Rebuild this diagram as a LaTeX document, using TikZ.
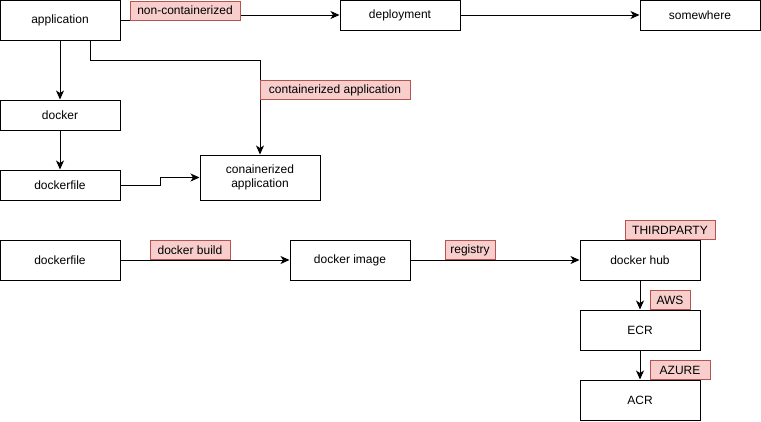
\documentclass[tikz,border=0pt]{standalone}
\usepackage{fontspec}
\setmainfont{Liberation Sans}
\usepackage{xcolor}
\usepackage{tikz}
\usetikzlibrary{positioning, arrows.meta}
\definecolor{tagfill}{HTML}{F8CECC}
\definecolor{tagline}{HTML}{B85450}
\tikzset{
	>={Stealth[length=9pt, width=8pt, inset=2.5pt]}, % arrow heads
	every node/.style={font=\fontsize{12}{14}\selectfont},
	box/.style={draw, line width=1pt, minimum width=120pt, minimum height=30pt, inner sep=0pt}, % plain boxes
	tallbox/.style={box, minimum height=40pt},
	tag/.style={draw=tagline, fill=tagfill, line width=1pt, minimum height=19pt, inner sep=0pt}, % red labels
	link/.style={->, line width=1pt},
}
\begin{document}
\begin{tikzpicture}[x=1pt, y=-1pt, node distance=2cm, on grid]
				\useasboundingbox (0,0) rectangle (761,421);
				% Top part
				\node[tallbox] (application) at (60,20) {application};
				\node[box] (deployment) at (400,15) {deployment};
				\node[box, right=300pt of deployment] (somewhere) {somewhere};
				\node[box, below=95pt of application] (docker) {docker};
				\node[box, below=70pt of docker] (dockerfile) {dockerfile};
				\node[box, minimum height=45pt, align=center] (conainerized) at (260,177.5) {conainerized\\application};
				
				% Bottom part
				\node[tallbox] (dockerfileB) at (60,260) {dockerfile};
				\node[tallbox, right=290pt of dockerfileB] (image) {docker image};
				\node[tallbox, right=290pt of image] (hub) {docker hub};
				\node[tallbox, below=70pt of hub] (ecr) {ECR};
				\node[tallbox, below=70pt of ecr] (acr) {ACR};
				
				% Connections
				\draw[link] (application.east) -- ++(65,0) |- (deployment.west);
				\draw[link] (deployment) -- (somewhere);
				\draw[link] (application) -- (docker);
				\draw[link] (docker) -- (dockerfile);
				\draw[link] ([xshift=30pt]application.south) -- ++(0,20) -| (conainerized.north);
				\draw[link] (dockerfile.east) -- ++(40,0) |- (conainerized.west);
				\draw[link] (dockerfileB) -- (image);
				\draw[link] (image) -- (hub);
				\draw[link] (hub) -- (ecr);
				\draw[link] (ecr) -- (acr);
				
				% Labels
				\node[tag, minimum width=110pt] (nonc) at (185,10.5) {non-containerized};
				\node[tag, minimum width=150pt] (cont) at (335,90) {containerized application};
				\node[tag, minimum width=80pt] (build) at (190,250) {docker build};
				\node[tag, minimum width=50pt] (registry) at (470,250) {registry};
				\node[tag, minimum width=90pt] (third) at (670,230) {THIRDPARTY};
				\node[tag, minimum width=40pt] (aws) at (670,300) {AWS};
				\node[tag, minimum width=60pt] (azure) at (680,370) {AZURE};
			\end{tikzpicture}
\end{document}
